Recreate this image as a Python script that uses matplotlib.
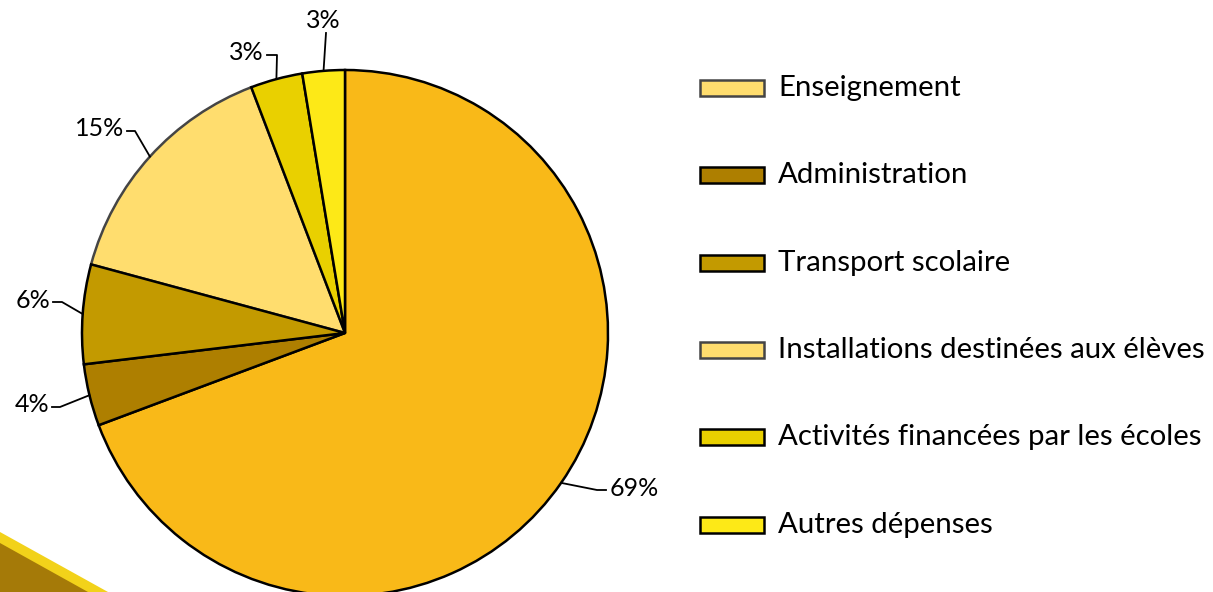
import matplotlib.pyplot as plt
import numpy as np
from matplotlib.patches import Rectangle, Polygon

categories = [
    "Enseignement",
    "Administration",
    "Transport scolaire",
    "Installations destinées aux élèves",
    "Activités financées par les écoles",
    "Autres dépenses",
]
shares = [69.3, 3.8, 6.1, 15.0, 3.2, 2.6]
slice_colors = ["#F9B918", "#AE7F00", "#C39A00", "#FFDD6E", "#E9D000", "#FDE917"]
slice_edges = ["black", "black", "black", "#454545", "black", "black"]
# the legend swatches in the original do not all match the slices
legend_colors = ["#FFDD6E", "#AE7F00", "#C39A00", "#FFDD6E", "#E9D000", "#FDE917"]
legend_edges = ["#454545", "black", "black", "#454545", "black", "black"]

plt.rcParams["font.family"] = ["Lato", "DejaVu Sans"]

W, H = 1213, 592
fig = plt.figure(figsize=(W / 100, H / 100), dpi=100)
ax = fig.add_axes([0, 0, 1, 1])

cx, cy, r = 345, H - 333, 263
wedges, _ = ax.pie(
    shares,
    colors=slice_colors,
    startangle=90,
    counterclock=False,
    center=(cx, cy),
    radius=r,
    wedgeprops=dict(linewidth=1.8, edgecolor="black"),
)
for w, ec in zip(wedges, slice_edges):
    w.set_edgecolor(ec)
    w.set_zorder(2 if ec == "black" else 1.5)

ax.set_xlim(0, W)
ax.set_ylim(0, H)
ax.set_aspect("equal")
ax.axis("off")

# leader lines: elbow point, tail end (image pixels, y from top), text alignment
leaders = [
    (597, 490, 606, "left"),
    (60, 407, 52, "right"),
    (62, 302, 53, "right"),
    (135, 131, 127, "right"),
    (277, 55, 267, "right"),
    (326, 33, 326, "center"),
]

for w, v, (ex, ey, tx, ha) in zip(wedges, shares, leaders):
    mid = np.deg2rad((w.theta1 + w.theta2) / 2)
    px, py = cx + r * np.cos(mid), cy + r * np.sin(mid)
    ax.plot([px, ex, tx], [py, H - ey, H - ey], color="black", lw=1.3, zorder=3)
    label = f"{round(v)}%"
    if ha == "center":
        ax.text(tx - 3, H - ey + 1, label, ha="center", va="bottom", fontsize=18)
    else:
        gap = 4 if ha == "left" else -3
        ax.text(tx + gap, H - ey + 2, label, ha=ha, va="center", fontsize=18)

# legend drawn by hand
for i, (name, fc, ec) in enumerate(zip(categories, legend_colors, legend_edges)):
    yc = H - (88 + i * 87.3)
    ax.add_patch(Rectangle((700, yc - 8), 64, 16, facecolor=fc, edgecolor=ec, lw=1.8))
    ax.text(778, yc, name, ha="left", va="center", fontsize=21.2)

# golden swoosh in the lower-left corner
ax.add_patch(Polygon([(0, H - 532), (108, 0), (0, 0)], closed=True,
                     facecolor="#F2D21A", edgecolor="none", zorder=0.5))
ax.add_patch(Polygon([(0, H - 543), (88, 0), (0, 0)], closed=True,
                     facecolor="#A57A08", edgecolor="none", zorder=0.6))

fig.savefig("out.png", dpi=100)
